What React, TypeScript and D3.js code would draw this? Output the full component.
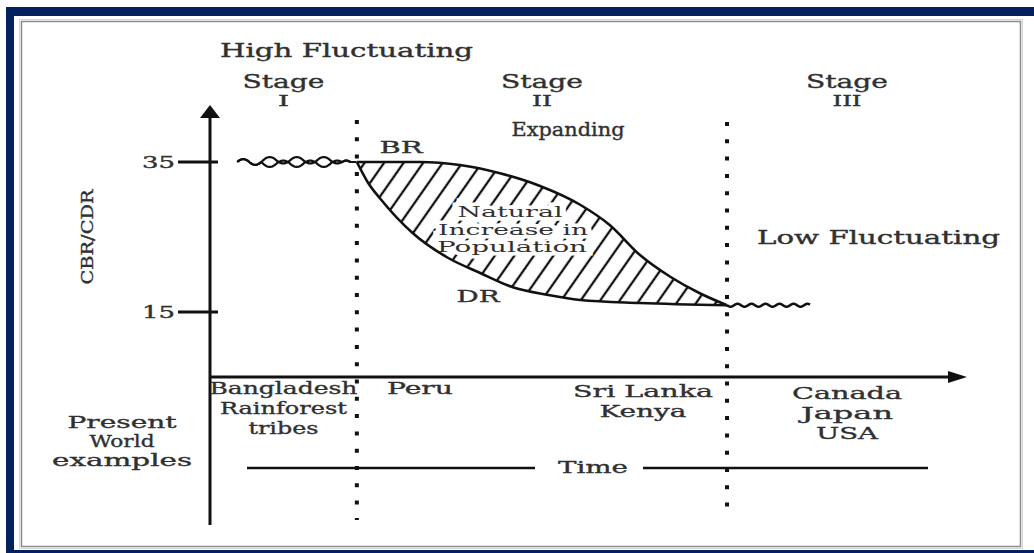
import React from "react";
import * as d3 from "d3";

// time runs 0..100 along the x axis (schematic), rates in per thousand
const stageBounds = [19.4, 68.3];
const stageNames = ["I", "II", "III"];
const yTicks = [35, 15];

// birth rate (BR) curve
const birthTime = [19.4, 27.7, 33.0, 38.3, 43.6, 48.9, 52.8, 56.8, 60.8, 64.7, 68.3];
const birthRate = [35, 35, 34.6, 33.5, 31.8, 29.3, 26.6, 22.6, 19.7, 17.5, 15.9];

// death rate (DR) curve
const deathTime = [19.4, 20.9, 22.5, 26.8, 31.3, 35.7, 40.0, 44.5, 48.9, 56.8, 68.3];
const deathRate = [35, 32.2, 30.1, 25.5, 22.3, 20.2, 18.3, 17.3, 16.6, 16.2, 15.9];

// fluctuating stretches (start, end) and the level they sit at
const highFluct = [3.6, 19.4];
const highLevel = 35;
const lowFluct = [68.3, 79.3];
const lowLevel = 15.9;

const stage1Examples = ["Bangladesh", "Rainforest", "tribes"];
const stage2EarlyExamples = ["Peru"];
const stage2LateExamples = ["Sri Lanka", "Kenya"];
const stage3Examples = ["Canada", "Japan", "USA"];
const rowLabel = ["Present", "World", "examples"];

const FONT = "'DejaVu Serif', serif";
const INK = "#303030";

type LabelProps = {
  x: number;
  y: number;
  w: number;
  size?: number;
  anchor?: "start" | "middle" | "end";
  halo?: boolean;
  children: string;
};

// the source type is set very wide, so every label gets stretched to its measured width
const Label = ({ x, y, w, size = 17, anchor = "middle", halo, children }: LabelProps) => (
  <text
    x={x}
    y={y}
    textAnchor={anchor}
    textLength={w}
    lengthAdjust="spacingAndGlyphs"
    fontFamily={FONT}
    fontSize={size}
    fill={INK}
    stroke={halo ? "#fff" : INK}
    strokeWidth={halo ? 7 : 0.35}
    style={{ paintOrder: "stroke" }}
  >
    {children}
  </text>
);

const App = () => {
  const width = 1034;
  const height = 553;

  const x = d3.scaleLinear().domain([0, 100]).range([210, 967]);
  const y = d3.scaleLinear().domain([15, 35]).range([312, 162]);
  const xAxisY = 377;
  const axisBottom = 525;

  const br = birthTime.map((t, i) => [t, birthRate[i]] as [number, number]);
  const dr = deathTime.map((t, i) => [t, deathRate[i]] as [number, number]);

  const curve = d3
    .line<[number, number]>()
    .x((d) => x(d[0]))
    .y((d) => y(d[1]))
    .curve(d3.curveMonotoneX);

  // region below BR, used as clip; region above DR filled with hatching
  const belowBR = d3
    .area<[number, number]>()
    .x((d) => x(d[0]))
    .y0((d) => y(d[1]))
    .y1(y(5))
    .curve(d3.curveMonotoneX);
  const aboveDR = d3
    .area<[number, number]>()
    .x((d) => x(d[0]))
    .y0(y(40))
    .y1((d) => y(d[1]))
    .curve(d3.curveMonotoneX);

  // rope-like squiggle for the high fluctuating stage: a curl, three eyes, then straight
  const rx0 = x(highFluct[0]);
  const rx1 = x(highFluct[1]);
  const ry = y(highLevel);
  const strandA: [number, number][] = [];
  const strandB: [number, number][] = [];
  for (let px = rx0; px <= rx1; px += 1) {
    const u = px - rx0;
    let a = 0;
    let b = 0;
    if (u < 24) {
      a = b = -3 * Math.sin((2 * Math.PI * u) / 24);
    } else if (u < 24 + 27 * 3) {
      const local = (u - 24) % 27;
      if (local < 17) {
        a = -5 * Math.sin((Math.PI * local) / 17);
        b = -a;
      } else {
        a = 1.4 * Math.sin((Math.PI * (local - 17)) / 10);
        b = -a;
      }
    } else if (u < 24 + 81 + 8) {
      a = b = -1.5 * Math.sin((Math.PI * (u - 105)) / 8);
    }
    strandA.push([px, ry + a]);
    strandB.push([px, ry + b]);
  }
  const raw = d3.line<[number, number]>().curve(d3.curveBasis);

  // small wiggle for low fluctuating stage
  const lx0 = x(lowFluct[0]);
  const lx1 = x(lowFluct[1]);
  const ly = y(lowLevel);
  const wiggle: [number, number][] = [];
  for (let px = lx0; px <= lx1; px += 1) {
    wiggle.push([px, ly + 1.6 * Math.sin((2 * Math.PI * (px - lx0)) / 14)]);
  }

  const stageEdges = [0, ...stageBounds, 100];
  const stageMid = stageNames.map((_, i) => x((stageEdges[i] + stageEdges[i + 1]) / 2));

  const dotted = { stroke: "#111", strokeWidth: 4, strokeDasharray: "4 13.3" };

  return (
    <svg
      width={width}
      height={height}
      style={{ position: "absolute", left: 0, top: 0, background: "#fff" }}
    >
      <defs>
        <pattern
          id="hatch"
          patternUnits="userSpaceOnUse"
          width={16}
          height={16}
          patternTransform="rotate(35)"
        >
          <line x1={8} y1={0} x2={8} y2={16} stroke="#111" strokeWidth={2.3} />
        </pattern>
        <clipPath id="belowBR">
          <path d={belowBR(br) || ""} />
        </clipPath>
      </defs>

      {/* frame */}
      <rect x={6} y={7} width={1028} height={9} fill="#04215f" />
      <rect x={6} y={7} width={8} height={546} fill="#04215f" />
      <rect x={6} y={550} width={1028} height={3} fill="#04215f" />
      <rect x={19.5} y={19.5} width={1003} height={529} fill="none" stroke="#d4d4d4" strokeWidth={1} />
      <rect x={21.5} y={21.5} width={999} height={525} fill="none" stroke="#8a8a8a" strokeWidth={1.5} />

      {/* hatched natural increase */}
      <g clipPath="url(#belowBR)">
        <path d={aboveDR(dr) || ""} fill="url(#hatch)" />
      </g>

      {/* stage separators */}
      {stageBounds.map((b, i) => (
        <line key={b} x1={x(b)} x2={x(b)} y1={i === 0 ? 120 : 122} y2={520} {...dotted} />
      ))}

      {/* axes */}
      <line x1={x(0)} x2={x(0)} y1={axisBottom} y2={112} stroke="#111" strokeWidth={3} />
      <path d={`M${x(0)},105 L${x(0) - 10},118 L${x(0) + 10},118 Z`} fill="#111" />
      <line x1={x(0)} x2={x(100) - 12} y1={xAxisY} y2={xAxisY} stroke="#111" strokeWidth={3} />
      <path
        d={`M${x(100)},${xAxisY} L${x(100) - 19},${xAxisY - 6} L${x(100) - 19},${xAxisY + 6} Z`}
        fill="#111"
      />
      {yTicks.map((t) => (
        <g key={t}>
          <line x1={x(0) - 32} x2={x(0) + 8} y1={y(t)} y2={y(t)} stroke="#111" strokeWidth={3} />
          <Label x={x(0) - 35} y={y(t) + 6} w={33} size={16} anchor="end">
            {String(t)}
          </Label>
        </g>
      ))}
      <g transform={`translate(93,237) rotate(-90)`}>
        <Label x={0} y={0} w={95} size={17}>
          CBR/CDR
        </Label>
      </g>

      {/* time line */}
      <line x1={247} x2={535} y1={468} y2={468} stroke="#111" strokeWidth={2.5} />
      <line x1={643} x2={928} y1={468} y2={468} stroke="#111" strokeWidth={2.5} />
      <Label x={593} y={473} w={70}>
        Time
      </Label>

      {/* fluctuations */}
      <path d={raw(strandA) || ""} fill="none" stroke="#111" strokeWidth={2.2} />
      <path d={raw(strandB) || ""} fill="none" stroke="#111" strokeWidth={2.2} />
      <path d={raw(wiggle) || ""} fill="none" stroke="#111" strokeWidth={2.5} />

      {/* inner label with white halo cutting the hatch */}
      <Label x={510} y={217} w={105} size={15} halo>
        Natural
      </Label>
      <Label x={513} y={235} w={150} size={15} halo>
        Increase in
      </Label>
      <Label x={512} y={252} w={150} size={15} halo>
        Population
      </Label>

      {/* BR / DR curves */}
      <path d={curve(br) || ""} fill="none" stroke="#111" strokeWidth={2.6} />
      <path d={curve(dr) || ""} fill="none" stroke="#111" strokeWidth={2.6} />

      {/* headings */}
      <Label x={220} y={57} w={253} size={18} anchor="start">
        High Fluctuating
      </Label>
      {stageNames.map((s, i) => (
        <g key={s}>
          <Label x={stageMid[i]} y={88} w={82} size={18}>
            Stage
          </Label>
          <Label x={stageMid[i]} y={106} w={s.length * 9 + 2} size={14}>
            {s}
          </Label>
        </g>
      ))}
      <Label x={568} y={136} w={113} size={18}>
        Expanding
      </Label>
      <Label x={757} y={244} w={243} size={18} anchor="start">
        Low Fluctuating
      </Label>
      <Label x={401} y={153} w={43} size={17}>
        BR
      </Label>
      <Label x={478} y={302} w={43} size={17}>
        DR
      </Label>

      {/* present world examples */}
      {rowLabel.map((r, i) => (
        <Label key={r} x={122} y={428 + i * 19} w={[109, 65, 140][i]}>
          {r}
        </Label>
      ))}
      {stage1Examples.map((r, i) => (
        <Label key={r} x={stageMid[0]} y={394 + i * 20} w={[148, 127, 70][i]}>
          {r}
        </Label>
      ))}
      {stage2EarlyExamples.map((r) => (
        <Label key={r} x={420} y={394} w={66}>
          {r}
        </Label>
      ))}
      {stage2LateExamples.map((r, i) => (
        <Label key={r} x={643} y={397 + i * 20} w={[140, 87][i]}>
          {r}
        </Label>
      ))}
      {stage3Examples.map((r, i) => (
        <Label key={r} x={stageMid[2]} y={399 + i * 20} w={[110, 92, 62][i]}>
          {r}
        </Label>
      ))}
    </svg>
  );
};

export default App;
